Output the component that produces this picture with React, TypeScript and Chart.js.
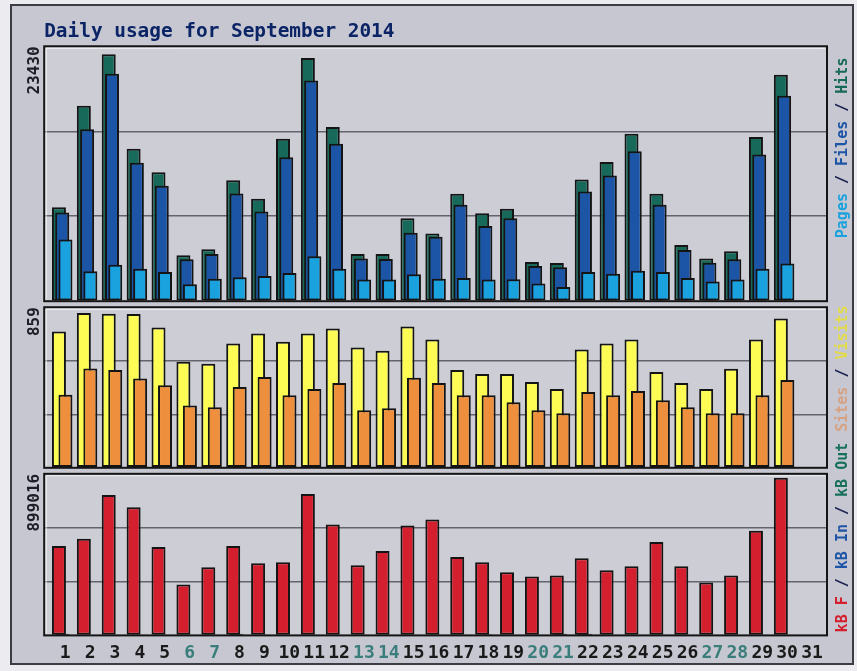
import { useEffect, useRef } from 'react';
import { Chart, registerables } from 'chart.js';

Chart.register(...registerables);

// ---- data ----
const DAYS = [1, 2, 3, 4, 5, 6, 7, 8, 9, 10, 11, 12, 13, 14, 15, 16, 17, 18, 19, 20, 21, 22, 23, 24, 25, 26, 27, 28, 29, 30];
const DAY_LABELS = ['1', '2', '3', '4', '5', '6', '7', '8', '9', '10', '11', '12', '13', '14', '15', '16', '17', '18', '19', '20', '21', '22', '23', '24', '25', '26', '27', '28', '29', '30', '31'];
const WEEKEND_DAYS = [6, 7, 13, 14, 20, 21, 27, 28];

const HITS = [8920, 18550, 23430, 14470, 12240, 4370, 4940, 11470, 9720, 15420, 23070, 16540, 4490, 4470, 7870, 6430, 10200, 8350, 8770, 3730, 3630, 11540, 13220, 15900, 10200, 5330, 4040, 4750, 15580, 21480];
const FILES = [8410, 16320, 21580, 13130, 10960, 3990, 4490, 10230, 8510, 13670, 20940, 14940, 4040, 4010, 6500, 6120, 9150, 7140, 7870, 3350, 3220, 10420, 11920, 14240, 9150, 4850, 3660, 3990, 13930, 19500];
const PAGES = [5860, 2840, 3470, 3090, 2770, 1600, 2130, 2270, 2390, 2680, 4270, 3090, 2070, 2050, 2550, 2130, 2200, 2070, 2080, 1690, 1340, 2770, 2610, 2900, 2770, 2200, 1880, 2070, 3090, 3570];

const VISITS = [756, 859, 855, 853, 779, 588, 577, 689, 745, 700, 745, 773, 667, 650, 784, 712, 543, 521, 521, 476, 437, 656, 689, 712, 532, 471, 437, 549, 712, 829];
const SITES = [405, 551, 542, 495, 458, 346, 336, 448, 504, 403, 437, 471, 319, 331, 499, 471, 403, 403, 364, 319, 303, 420, 403, 426, 375, 336, 303, 303, 403, 487];

const KB_F = [510400, 551000, 800400, 730800, 504600, 290000, 388600, 510400, 411800, 417600, 806200, 632200, 400200, 481400, 626400, 661200, 446600, 417600, 359600, 336400, 342200, 440800, 371200, 394400, 533600, 394400, 301600, 342200, 597400, 899016];
const KB_IN = [9000, 0, 0, 0, 0, 0, 0, 9000, 0, 0, 0, 0, 0, 0, 0, 0, 0, 6000, 0, 0, 9000, 9000, 0, 0, 0, 0, 0, 0, 0, 0];
const KB_OUT = [0, 0, 0, 0, 0, 0, 0, 0, 0, 0, 0, 0, 0, 0, 0, 0, 0, 0, 0, 0, 0, 0, 0, 0, 0, 0, 0, 0, 0, 0];

const HITS_MAX_LABEL = '23430';
const VISITS_MAX_LABEL = '859';
const KB_MAX_LABEL = '899016';

const AXIS_MAX_TOP = 24190;
const AXIS_MAX_MID = 891;
const AXIS_MAX_BOT = 921900;

const TITLE = 'Daily usage for September 2014';

// ---- styles ----
const MONO = "'DejaVu Sans Mono', 'Liberation Mono', monospace";
const C_HITS = '#17695a';
const C_FILES = '#1d55a6';
const C_PAGES = '#1aa2de';
const C_VISITS = '#fcfc55';
const C_SITES = '#ee8f3e';
const C_KBF = '#d4202e';
const C_KBIN = '#1d55a6';
const C_KBOUT = '#17695a';
const OUTLINE = '#141414';
const GRID = '#64646e';
const PANEL_BG = '#cdcdd6';
const FRAME_BG = '#c7c7d1';

const pts = (vals: number[]) => DAYS.map((d, i) => ({ x: d, y: vals[i] }));

const barStyle = {
  barPercentage: 4.3,
  categoryPercentage: 0.392,
  borderWidth: 2,
  borderColor: OUTLINE,
  borderSkipped: false as const,
  inflateAmount: 0,
};

const thirds = (axis: any) => {
  axis.ticks = [0, 1, 2, 3].map((k) => ({ value: (axis.max * k) / 3 }));
};

const gridStyle = {
  drawTicks: false,
  lineWidth: 1.5,
  color: (ctx: any) => (ctx.index === 1 || ctx.index === 2 ? GRID : 'rgba(0,0,0,0)'),
};

const axisTitle = (text: string) => ({
  display: true,
  text,
  align: 'end' as const,
  color: '#1e1e26',
  font: { family: MONO, weight: 'bold' as const, size: 16 },
  padding: { top: 0, bottom: 0 },
});

const spacer = (weight: number) => ({
  type: 'linear' as const,
  display: true,
  position: 'left' as const,
  stack: 'panels',
  stackWeight: 6,
  weight,
  min: 0,
  max: 1,
  grid: { display: false, drawTicks: false },
  ticks: { display: false },
  border: { display: false },
});

const SIDE_LEGENDS = [
  {
    axis: 'yTop',
    fromBottom: 63,
    parts: [['Pages', C_PAGES], [' / ', '#1b2150'], ['Files', C_FILES], [' / ', '#1b2150'], ['Hits', C_HITS]],
  },
  {
    axis: 'yMid',
    fromBottom: 36,
    parts: [['Sites', '#d6a283'], [' / ', '#1b2150'], ['Visits', '#e3dc48']],
  },
  {
    axis: 'yBot',
    fromBottom: 3,
    parts: [['kB F', C_KBF], [' / ', '#1b2150'], ['kB In', C_KBIN], [' / ', '#1b2150'], ['kB Out', '#16705a']],
  },
];

const PANELS = ['yTop', 'yMid', 'yBot'];

const framePlugin = {
  id: 'webalizerFrame',
  beforeDraw(chart: any) {
    const { ctx, chartArea, scales, width, height } = chart;
    ctx.save();
    ctx.fillStyle = '#ececf0';
    ctx.fillRect(0, 0, width, height);
    ctx.fillStyle = FRAME_BG;
    ctx.fillRect(11, 5, width - 15, height - 12);
    ctx.strokeStyle = '#3c3c44';
    ctx.lineWidth = 2;
    ctx.strokeRect(11, 5, width - 15, height - 12);
    for (const id of PANELS) {
      const s = scales[id];
      ctx.fillStyle = PANEL_BG;
      ctx.fillRect(chartArea.left, s.top, chartArea.right - chartArea.left, s.bottom - s.top);
    }
    ctx.restore();
  },
  afterDatasetsDraw(chart: any) {
    const { ctx, chartArea, scales } = chart;
    ctx.save();
    for (const id of PANELS) {
      const s = scales[id];
      ctx.strokeStyle = OUTLINE;
      ctx.lineWidth = 2;
      ctx.strokeRect(chartArea.left, s.top, chartArea.right - chartArea.left, s.bottom - s.top);
      ctx.strokeStyle = 'rgba(255,255,255,0.8)';
      ctx.lineWidth = 1;
      ctx.beginPath();
      ctx.moveTo(chartArea.left + 2, s.bottom - 1.5);
      ctx.lineTo(chartArea.left + 2, s.top + 2);
      ctx.lineTo(chartArea.right - 2, s.top + 2);
      ctx.stroke();
    }
    ctx.restore();
  },
  afterDraw(chart: any) {
    const { ctx, chartArea, scales } = chart;
    ctx.save();
    ctx.font = `bold 15px ${MONO}`;
    ctx.textBaseline = 'middle';
    ctx.textAlign = 'left';
    for (const lg of SIDE_LEGENDS) {
      const s = scales[lg.axis];
      ctx.save();
      ctx.translate(chartArea.right + 16.5, s.bottom - lg.fromBottom);
      ctx.rotate(-Math.PI / 2);
      let x = 0;
      for (const [txt, col] of lg.parts) {
        ctx.fillStyle = col;
        ctx.fillText(txt, x, 0);
        x += ctx.measureText(txt).width;
      }
      ctx.restore();
    }
    ctx.restore();
  },
};

export default function App() {
  const ref = useRef<HTMLCanvasElement>(null);

  useEffect(() => {
    if (!ref.current) return;
    const chart = new Chart(ref.current, {
      type: 'bar',
      data: {
        datasets: [
          { label: 'kB F', data: pts(KB_F), yAxisID: 'yBot', stack: 's0', backgroundColor: C_KBF, ...barStyle },
          { label: 'kB In', data: pts(KB_IN), yAxisID: 'yBot', stack: 's1', backgroundColor: C_KBIN, ...barStyle },
          { label: 'kB Out', data: pts(KB_OUT), yAxisID: 'yBot', stack: 's2', backgroundColor: C_KBOUT, ...barStyle },
          { label: 'Pages', data: pts(PAGES), yAxisID: 'yTop', stack: 's2', backgroundColor: C_PAGES, ...barStyle },
          { label: 'Files', data: pts(FILES), yAxisID: 'yTop', stack: 's1', backgroundColor: C_FILES, ...barStyle },
          { label: 'Hits', data: pts(HITS), yAxisID: 'yTop', stack: 's0', backgroundColor: C_HITS, ...barStyle },
          { label: 'Sites', data: pts(SITES), yAxisID: 'yMid', stack: 's2', backgroundColor: C_SITES, ...barStyle },
          { label: 'Visits', data: pts(VISITS), yAxisID: 'yMid', stack: 's0', backgroundColor: C_VISITS, ...barStyle },
        ],
      },
      options: {
        responsive: false,
        animation: false,
        devicePixelRatio: 1,
        layout: { padding: { left: 25, right: 30, top: 10, bottom: 0 } },
        plugins: {
          legend: { display: false },
          tooltip: { enabled: false },
          title: {
            display: true,
            text: TITLE,
            align: 'start',
            fullSize: false,
            color: '#0b2466',
            font: { family: MONO, weight: 'bold', size: 19.4 },
            padding: { top: 10, bottom: 3 },
          },
        },
        scales: {
          x: {
            type: 'linear',
            position: 'bottom',
            offset: false,
            min: 0.277,
            max: 31.723,
            grid: { display: false, drawTicks: false, offset: false },
            border: { display: false },
            ticks: {
              stepSize: 1,
              includeBounds: false,
              autoSkip: false,
              maxRotation: 0,
              minRotation: 0,
              padding: 7,
              labelOffset: 3,
              callback: (v: any) => DAY_LABELS[Math.round(Number(v)) - 1] ?? '',
              color: (ctx: any) => (WEEKEND_DAYS.includes(Math.round(ctx.tick.value)) ? '#3a7e7b' : '#1a1a1a'),
              font: { family: MONO, weight: 'bold', size: 18 },
            },
          },
          yTop: {
            type: 'linear',
            display: true,
            position: 'left',
            stack: 'panels',
            stackWeight: 254,
            weight: 5,
            min: 0,
            max: AXIS_MAX_TOP,
            stacked: false,
            afterBuildTicks: thirds,
            ticks: { display: false },
            grid: gridStyle,
            border: { display: false },
            title: axisTitle(HITS_MAX_LABEL),
          },
          gap1: spacer(4),
          yMid: {
            type: 'linear',
            display: true,
            position: 'left',
            stack: 'panels',
            stackWeight: 160,
            weight: 3,
            min: 0,
            max: AXIS_MAX_MID,
            stacked: false,
            afterBuildTicks: thirds,
            ticks: { display: false },
            grid: gridStyle,
            border: { display: false },
            title: axisTitle(VISITS_MAX_LABEL),
          },
          gap2: spacer(2),
          yBot: {
            type: 'linear',
            display: true,
            position: 'left',
            stack: 'panels',
            stackWeight: 161,
            weight: 1,
            min: 0,
            max: AXIS_MAX_BOT,
            stacked: false,
            afterBuildTicks: thirds,
            ticks: { display: false },
            grid: gridStyle,
            border: { display: false },
            title: axisTitle(KB_MAX_LABEL),
          },
        },
      } as any,
      plugins: [framePlugin],
    });
    return () => chart.destroy();
  }, []);

  return (
    <div style={{ position: 'absolute', left: 0, top: 0, width: 857, height: 671 }}>
      <canvas ref={ref} width={857} height={671} style={{ display: 'block', width: 857, height: 671 }} />
    </div>
  );
}
